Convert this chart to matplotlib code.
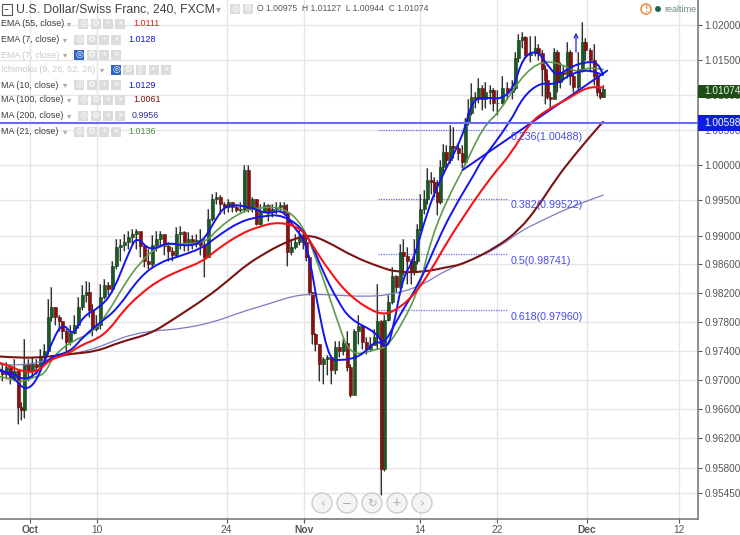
import matplotlib
matplotlib.use("Agg")
import matplotlib.pyplot as plt
from matplotlib.patches import Rectangle, Circle, PathPatch
from matplotlib.path import Path

plt.rcParams['font.family'] = ['Liberation Sans', 'DejaVu Sans']

# x is a bar slot on the time axis, y is the USD/CHF price
bar_slot = [1,3,5,7,9,10.5,12,14,16,18, 20,22,24,25.5,27.5,29.5,31,33,35,37,
    39,41,43,44.5,46,48,50,52,54,56, 58,60,62,64,66,68,70,72,74,76,
    78,80,82,84,86,88,90,92,94,96, 98,100,102,104,106,108,110,112,114,116,
    118,120,122,124,126,128,130,132,134,136, 138,140,142,143.5,145.5,147.5,149.5,151.5,153,154.5,
    156,157.5,159.5,161.5,163.5,165.5,167.5,169.5,171.5,173.5, 175,177,179,181,183,185,187,188.5,190.5,192,
    194,196,198,200,201.5,203.5,205.5,207,208.5,210, 212,213.5,215.5,217,218.5,220,221.5,223,225,226.5,
    229,231,232.5,234,235.5,237.5,239,241,242.5,245, 246.5,248.5,251,253.5,256,257.5,259,261,262.5,265,
    267.5,269,271,272.5,273.5,275,277,278.5,280,281.5, 283.5,285,286.5,289,291,292.5,295,297,298.5,300, 301.5]
first_open = 0.9712
closes = [.9708,.9717,.9703,.9712,.9662,.9659,.9721,.9712,.9721,.9717,
    .9732,.9739,.9786,.9801,.9786,.9781,.9767,.9752,.9764,.9776,
    .9801,.9817,.9822,.9797,.9770,.9775,.9814,.9831,.9825,.9857,
    .9884,.9887,.9891,.9898,.9902,.9906,.9885,.9864,.9860,.9887,
    .9895,.9902,.9885,.9878,.9873,.9902,.9905,.9891,.9895,.9889,
    .9894,.9887,.9870,.9923,.9951,.9955,.9944,.9941,.9947,.9940,
    .9936,.9937,.9992,.9937,.9951,.9917,.9934,.9943,.9934,.9937,
    .9940,.9943,.9934,.9877,.9884,.9891,.9898,.9891,.9870,.9821,
    .9763,.9749,.9721,.9728,.9731,.9714,.9745,.9739,.9750,.9717,
    .9679,.9767,.9774,.9752,.9742,.9748,.9759,.9781,.9578,.9783,
    .9807,.9843,.9829,.9877,.9871,.9864,.9850,.9864,.9909,.9937,
    .9951,.9979,.9976,.9962,.9947,.9997,1.0018,1.0007,1.0027,1.0024,
    1.0017,1.0004,1.0060,1.0074,1.0096,1.0093,1.0110,1.0093,1.0104,1.0107,
    1.0088,1.0088,1.0110,1.0104,1.0110,1.0153,1.0179,1.0183,1.0157,1.0160,
    1.0167,1.0160,1.0136,1.0121,1.0096,1.0093,1.0161,1.0118,1.0133,1.0129,
    1.0161,1.0126,1.0111,1.0136,1.0176,1.0164,1.0150,1.0126,1.0103,1.0096,1.01074]
highs = [.9723,.9725,.9720,.9728,.9714,.9669,.9756,.9728,.9731,.9728,
    .9742,.9749,.9811,.9828,.9800,.9790,.9781,.9770,.9775,.9789,
    .9814,.9831,.9836,.9835,.9804,.9789,.9832,.9839,.9835,.9864,
    .9895,.9895,.9903,.9906,.9909,.9909,.9901,.9888,.9881,.9901,
    .9906,.9906,.9901,.9891,.9884,.9912,.9913,.9906,.9905,.9901,
    .9903,.9909,.9895,.9937,.9958,.9961,.9957,.9947,.9951,.9948,
    .9945,.9947,.9999,.9999,.9955,.9951,.9944,.9947,.9945,.9945,
    .9947,.9948,.9948,.9945,.9895,.9902,.9912,.9906,.9901,.9873,
    .9822,.9765,.9749,.9731,.9734,.9734,.9753,.9753,.9756,.9767,
    .9721,.9770,.9790,.9776,.9759,.9759,.9770,.9832,.9783,.9789,
    .9817,.9856,.9845,.9888,.9895,.9884,.9867,.9895,.9916,.9958,
    .9965,.9996,.9990,.9982,.9979,1.0007,1.0030,1.0028,1.0057,1.0054,
    1.0031,1.0028,1.0067,1.0093,1.0117,1.0104,1.0124,1.0113,1.0118,1.0114,
    1.0110,1.0107,1.0126,1.0118,1.0121,1.0161,1.0187,1.0190,1.0184,1.0184,
    1.0184,1.0173,1.0164,1.0143,1.0129,1.0104,1.0167,1.0164,1.0147,1.0141,
    1.0176,1.0164,1.0129,1.0161,1.0204,1.0181,1.0167,1.0173,1.0133,1.0110,1.0113]
lows = [.9698,.9701,.9694,.9698,.9639,.9645,.9648,.9698,.9703,.9708,
    .9717,.9725,.9736,.9781,.9776,.9767,.9756,.9739,.9748,.9763,
    .9772,.9797,.9808,.9786,.9761,.9767,.9770,.9811,.9817,.9822,
    .9853,.9864,.9878,.9881,.9888,.9881,.9870,.9856,.9853,.9856,
    .9878,.9887,.9873,.9864,.9864,.9870,.9881,.9878,.9878,.9881,
    .9884,.9873,.9842,.9870,.9920,.9945,.9930,.9930,.9934,.9934,
    .9933,.9933,.9933,.9933,.9934,.9915,.9915,.9934,.9920,.9926,
    .9930,.9934,.9929,.9857,.9873,.9881,.9887,.9881,.9864,.9817,
    .9749,.9739,.9698,.9694,.9706,.9694,.9708,.9732,.9734,.9712,
    .9677,.9739,.9749,.9742,.9735,.9739,.9749,.9742,.9543,.9575,
    .9781,.9804,.9822,.9825,.9845,.9832,.9832,.9845,.9860,.9906,
    .9930,.9944,.9958,.9954,.9929,.9944,.9990,.9996,1.0003,1.0010,
    1.0007,.9996,1.0000,1.0057,1.0071,1.0081,1.0088,1.0078,1.0081,1.0086,
    1.0076,1.0071,1.0086,1.0093,1.0093,1.0107,1.0147,1.0167,1.0153,1.0147,
    1.0156,1.0150,1.0098,1.0086,1.0093,1.0081,1.0093,1.0104,1.0110,1.0121,
    1.0124,1.0114,1.0104,1.0107,1.0133,1.0150,1.0133,1.0114,1.0098,1.0093,1.0096]

ma100_x = [0,10,21.5,33.5,48.5,60,75,86.5,103.5,113.5,123.5,133.5,140,148.5,155,163.5,176.5,190,198.5,211.5,223.5,231.5,248.5,260,269,278.5,286.5,295,301.5]
ma100_y = [.9732,.9730,.9731,.9735,.9739,.9752,.9763,.9783,.9814,.9836,.9860,.9877,.9887,.9897,.9901,.9892,.9871,.9856,.9849,.9849,.9856,.9860,.9884,.9909,.9941,.9982,1.0011,1.0040,1.0061]
ma200_x = [0,11.5,25,35,46.5,56.5,66.5,78.5,90,106.5,120,133.5,150,168.5,181.5,195,210,223.5,240,250,260,270,285,301.5]
ma200_y = [.9721,.9719,.9728,.9735,.9742,.9753,.9763,.9768,.9770,.9779,.9793,.9804,.9819,.9817,.9815,.9817,.9829,.9853,.9871,.9885,.9906,.9920,.9940,.9957]
ema55_x = [0,5,10,18.5,25,33.5,41.5,48.5,55,61.5,70,78.5,88.5,101.5,108.5,120,128.5,140,151.5,156.5,165,175,189,196.5,206.5,215,223.5,233.5,240,248.5,255,265,273.5,283.5,293.5,301.5]
ema55_y = [.9723,.9719,.9712,.9710,.9728,.9735,.9749,.9756,.9770,.9795,.9818,.9836,.9850,.9864,.9881,.9902,.9912,.9920,.9909,.9885,.9849,.9815,.9790,.9793,.9815,.9849,.9891,.9934,.9961,.9993,1.0014,1.0060,1.0078,1.0093,1.0111,1.0110]
ma21_x = [0,6.5,10,16.5,22.5,26.5,35,46.5,55,61.5,70,80,93.5,103.5,108.5,120,130,141.5,151.5,160,168.5,175,188.5,193.5,201.5,210,215,223.5,231.5,241.5,250,258.5,268.5,278.5,288.5,294,301.5]
ma21_y = [.9704,.9701,.9696,.9703,.9708,.9732,.9752,.9765,.9797,.9829,.9863,.9888,.9888,.9892,.9909,.9933,.9940,.9940,.9916,.9853,.9783,.9732,.9742,.9745,.9779,.9829,.9891,.9951,.9993,1.0054,1.0076,1.0117,1.0146,1.0147,1.0131,1.0139,1.0136]
ma10_x = [0,6.5,11.5,16.5,21.5,26.5,31.5,36.5,41.5,50,56.5,65,68.5,75,83.5,93.5,101.5,108.5,113.5,125,133.5,141.5,146.5,153.5,160,165,169,175,181.5,188.5,193.5,196.5,201.5,206.5,213.5,220,231.5,236,243.5,250,256.5,261.5,268.5,273.5,278.5,285,291.5,298.5,301.5]
ma10_y = [.9714,.9705,.9687,.9691,.9719,.9756,.9779,.9760,.9788,.9800,.9821,.9881,.9899,.9878,.9891,.9885,.9891,.9927,.9944,.9941,.9930,.9937,.9913,.9891,.9783,.9728,.9727,.9728,.9735,.9756,.9742,.9770,.9843,.9863,.9933,.9979,1.0040,1.0093,1.0096,1.0093,1.0107,1.0154,1.0164,1.0143,1.0126,1.0139,1.0146,1.0147,1.0129]
ema7_x = [0,6.5,10,16.5,25,35,41.5,50,58.5,70,80,88.5,101.5,108.5,120,130,141.5,153.5,161.5,168.5,175,188.5,191.5,198.5,210,218.5,226.5,238.5,240,255,261.5,270,276.5,281.5,285,294,301.5]
ema7_y = [.9712,.9710,.9701,.9703,.9732,.9738,.9759,.9779,.9797,.9843,.9863,.9870,.9883,.9899,.9920,.9927,.9930,.9905,.9849,.9811,.9783,.9765,.9746,.9783,.9835,.9891,.9937,.9993,1.0003,1.0060,1.0097,1.0117,1.0114,1.0121,1.0129,1.0136,1.0128]
trend_x = [231.5, 303.5]
trend_y = [.9993, 1.0134]

hline_price = 1.00598
last_price = 1.01074
fib_names = ['0.236', '0.382', '0.5', '0.618']
fib_prices = [1.00488, 0.99522, 0.98741, 0.97960]

price_ticks = [1.02, 1.015, 1.01, 1.005, 1.0, 0.995, 0.99, 0.986, 0.982, 0.978, 0.974, 0.97, 0.966, 0.962, 0.958, 0.9545]
date_slots = [15, 48.5, 113.25, 152, 210, 248.5, 293.5, 339.5]
date_labels = ['Oct', '10', '24', 'Nov', '14', '22', 'Dec', '12']
date_bold = ['Oct', 'Nov', 'Dec']

legend_names = ['EMA (55, close)', 'EMA (7, close)', 'EMA (7, close)', 'Ichimoku (9, 26, 52, 26)',
                'MA (10, close)', 'MA (100, close)', 'MA (200, close)', 'MA (21, close)']
legend_values = ['1.0111', '1.0128', '', '', '1.0129', '1.0061', '0.9956', '1.0136']
legend_colors = ['#f01010', '#1010f0', '', '', '#1010f0', '#7a1010', '#303090', '#4f9040']

W, H = 740, 535
fig = plt.figure(figsize=(W/100, H/100), dpi=100)
ax = fig.add_axes([0, 16/H, 698/W, 519/H])
ax.set_yscale('log')
ax.set_xlim(0, 349)
ax.set_ylim(0.95105, 1.02362)

ax.set_yticks(price_ticks)
ax.set_yticklabels(['%.5f' % p for p in price_ticks])
ax.minorticks_off()
ax.yaxis.tick_right()
ax.set_xticks(date_slots)
ax.set_xticklabels(date_labels)
for lab in ax.get_xticklabels():
    if lab.get_text() in date_bold:
        lab.set_fontweight('bold')
ax.tick_params(axis='y', labelsize=7.2, colors='#555555', length=3, width=0.8, pad=1.5)
ax.tick_params(axis='x', labelsize=7.4, colors='#555555', length=3, width=0.8, pad=1.5)
ax.grid(True, color='#e6e6e6', lw=1.0)
ax.set_axisbelow(True)
for s in ['top', 'left']:
    ax.spines[s].set_visible(False)
for s in ['right', 'bottom']:
    ax.spines[s].set_color('#707070')
    ax.spines[s].set_linewidth(1.1)

# candles
opens = [first_open] + closes[:-1]
assert len(bar_slot) == len(closes) == len(highs) == len(lows)
up = [c >= o for o, c in zip(opens, closes)]
ax.vlines(bar_slot, lows, highs, color='#9a9a9a', lw=1.6, alpha=0.8, zorder=2)
ax.vlines(bar_slot, lows, highs, color='#2c2c2c', lw=0.7, zorder=2.1)
ax.bar(bar_slot, [abs(c-o) for o, c in zip(opens, closes)], bottom=[min(o, c) for o, c in zip(opens, closes)],
       width=1.5, color=['#1c5a24' if u else '#8c0f0f' for u in up],
       edgecolor=['#123f18' if u else '#6a0808' for u in up], lw=0.4, zorder=2.2)


def smooth_line(xs, ys, color, lw, z):
    # quadratic curve through the midpoints so the knots do not show as corners
    verts = [(xs[0], ys[0])]
    codes = [Path.MOVETO]
    for i in range(1, len(xs) - 1):
        verts.append((xs[i], ys[i]))
        verts.append(((xs[i] + xs[i+1]) / 2, (ys[i] + ys[i+1]) / 2))
        codes += [Path.CURVE3, Path.CURVE3]
    verts.append((xs[-1], ys[-1]))
    codes.append(Path.LINETO)
    ax.add_patch(PathPatch(Path(verts, codes), fc='none', ec=color, lw=lw, zorder=z, capstyle='round'))


smooth_line(ma200_x, ma200_y, '#7b7bc4', 0.9, 3)
smooth_line(ma100_x, ma100_y, '#7a1414', 1.5, 3)
smooth_line(ma21_x, ma21_y, '#5f9a4c', 1.2, 3)
smooth_line(ema7_x, ema7_y, '#1414f0', 1.4, 3.1)
smooth_line(ma10_x, ma10_y, '#1414f0', 1.4, 3.1)
smooth_line(ema55_x, ema55_y, '#f81414', 1.5, 3.2)
ax.plot(trend_x, trend_y, color='#1414f0', lw=1.4, zorder=3.1)
ax.annotate('', xy=(288, 1.0193), xytext=(288, 1.0157),
            arrowprops=dict(arrowstyle='->', color='#2020e0', lw=0.9, mutation_scale=7), zorder=4)

# fib levels and drawn level
ax.axhline(hline_price, color='#6a6aff', lw=1.5, zorder=4)
for name, price in zip(fib_names, fib_prices):
    ax.plot([189, 254], [price, price], color='#6a6aff', lw=0.9, ls=(0, (1, 1)), zorder=1.5)
    ax.annotate('%s(%.5f)' % (name, price), (255.5, price), xytext=(0, -1.2), textcoords='offset points',
                color='#4a4ae8', fontsize=7.7, va='top', zorder=4)


def fx(px):
    return px / W


def fy(py):
    return 1 - py / H


def box(px, py, w, h, color, z=6):
    fig.add_artist(Rectangle((fx(px), fy(py + h)), w / W, h / H, transform=fig.transFigure,
                             fc=color, ec='none', zorder=z))


def label(px, py, s, **kw):
    kw.setdefault('va', 'center')
    kw.setdefault('zorder', 7)
    fig.text(fx(px), fy(py), s, **kw)


def icons(px, py, glyphs, first_on=False):
    for i, g in enumerate(glyphs):
        x = px + i * 12.5
        box(x, py - 5, 10, 10, '#2f66c8' if first_on and i == 0 else '#dcdcdc')
        label(x + 5, py - 0.3, g, ha='center', color='white', fontsize=6.5)


# price boxes on the axis
box(698, 85, 42, 13, '#1d4f14')
label(704, 91.5, '1.01074', color='#e8f0e0', fontsize=7.2)
box(698, 115, 42, 16, '#0b1ee0')
label(704, 123, '1.00598', color='white', fontsize=7.2)

# title row
fig.add_artist(Rectangle((fx(1.5), fy(14.5)), 10 / W, 10 / H, transform=fig.transFigure, fc='white', ec='#555555', lw=0.8, zorder=7))
label(3.5, 9.2, '\u2013', color='#444444', fontsize=7, family=['DejaVu Sans'])
label(15.5, 9.5, 'U.S. Dollar/Swiss Franc, 240, FXCM', color='#404040', fontsize=8.8)
label(216, 9, '\u25be', color='#a0a0a0', fontsize=7, family=['DejaVu Sans'])
icons(230, 9, ['\u25ce', '\u2699'])
label(257, 8.5, 'O 1.00975  H 1.01127  L 1.00944  C 1.01074', color='#555555', fontsize=6.2)

# indicator legend
row_y = [24, 40, 55, 70, 85, 100, 116, 132]
icon_x = [78, 74, 74, 111, 74, 78, 78, 74]
value_x = [133, 128, 0, 0, 128, 133, 132, 128]
glyph_sets = [['\u25ce', '\u2699', '+', '\u00d7']] * 8
glyph_sets[3] = ['\u25ce', '\u2699', '()', '+', '\u00d7']
for i, name in enumerate(legend_names):
    hidden = i in (2, 3)
    label(1, row_y[i], name, color='#c8c8c8' if hidden else '#3c3c3c', fontsize=6.4)
    label(icon_x[i] - 11, row_y[i] - 0.5, '\u25be', color='#a8a8a8', fontsize=6, family=['DejaVu Sans'])
    icons(icon_x[i], row_y[i], glyph_sets[i], first_on=hidden)
    if legend_values[i]:
        label(value_x[i], row_y[i], legend_values[i], color=legend_colors[i], fontsize=6.4)

# realtime note
fig.add_artist(Circle((646, H - 9), 5, transform=None, fc='white', ec='#f09050', lw=1.2, zorder=7))
label(646, 9, '!', ha='center', color='#f09050', fontsize=7, fontweight='bold')
fig.add_artist(Circle((658, H - 9), 3, transform=None, fc='#1f6b45', ec='none', zorder=7))
label(664, 9, 'realtime', color='#6c8f7c', fontsize=6.5)

# chart navigation buttons
nav_x = [322, 347, 372, 397, 422]
nav_glyphs = ['\u2039', '\u2212', '\u21bb', '+', '\u203a']
for x, g in zip(nav_x, nav_glyphs):
    fig.add_artist(Circle((x, H - 503), 10, transform=None, fc='#f4f4f4', ec='#c8c8c8', lw=0.9, zorder=7))
    label(x, 503, g, ha='center', color='#b0b0b0', fontsize=8.5, family=['DejaVu Sans'], zorder=8)

fig.savefig('out.png', dpi=100)
